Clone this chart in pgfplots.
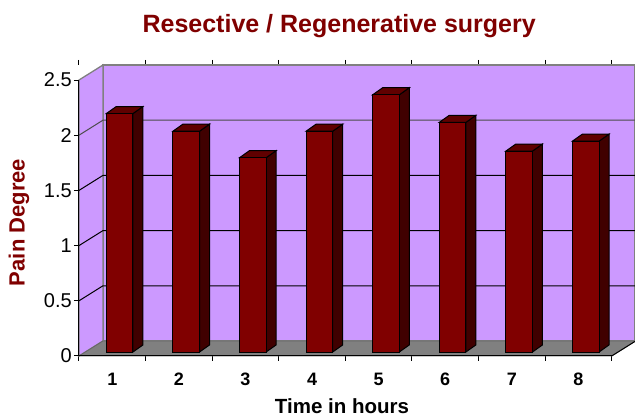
\documentclass[border=0pt]{standalone}
\usepackage{fontspec}
\setmainfont{Liberation Sans}
\usepackage{pgfplots}
\pgfplotsset{compat=1.18}
\definecolor{wall}{HTML}{CC99FF}
\definecolor{floorc}{HTML}{808080}
\definecolor{barfront}{HTML}{800000}
\definecolor{barside}{HTML}{400000}
\definecolor{bartop}{HTML}{600000}
% one bar: #1 hour, #2 value
\newcommand\threedbar[2]{%
  \pgfmathsetmacro\xa{#1-0.09}%
  \pgfmathsetmacro\xb{#1+0.31}%
  \pgfmathsetmacro\xc{#1+0.46}%
  \pgfmathsetmacro\ya{0.036}%
  \pgfmathsetmacro\yb{0.100}%
  \pgfmathsetmacro\yt{#2+0.036}%
  \pgfmathsetmacro\yu{#2+0.100}%
  \pgfmathsetmacro\xd{#1+0.06}%
  \edef\tmp{%
    \noexpand\addplot[draw=black,line width=1pt,fill=barside] coordinates {(\xb,\ya)(\xc,\yb)(\xc,\yu)(\xb,\yt)} --cycle;
    \noexpand\addplot[draw=black,line width=1pt,fill=bartop] coordinates {(\xa,\yt)(\xb,\yt)(\xc,\yu)(\xd,\yu)} --cycle;
    \noexpand\addplot[draw=black,line width=1pt,fill=barfront] coordinates {(\xa,\ya)(\xb,\ya)(\xb,\yt)(\xa,\yt)} --cycle;
  }\tmp
}
% one gridline
\newcommand\gridl[2]{%
  \pgfmathsetmacro\yg{#1+0.136}%
  \edef\tmp{\noexpand\addplot[draw=#2,line width=1pt] coordinates {(0.5,#1)(0.86,\yg)(8.85,\yg)};}\tmp
}
\begin{document}
\begin{tikzpicture}
\path[use as bounding box] (-79pt,-61pt) rectangle (556pt,356pt);
\begin{axis}[
  at={(0,0)}, anchor=south west,
  scale only axis, width=556pt, height=291pt,
  xmin=0.5, xmax=8.85, ymin=0, ymax=2.636,
  axis line style={draw=none},
  clip=false, no markers,
  tick align=outside,
  ytick={0,0.5,1,1.5,2,2.5},
  yticklabels={0,0.5,1,1.5,2,2.5},
  xtick={0.5,1.5,2.5,3.5,4.5,5.5,6.5,7.5,8.5},
  xticklabels={},
  extra x ticks={1,2,3,4,5,6,7,8},
  extra x tick labels={1,2,3,4,5,6,7,8},
  extra x tick style={major tick length=0pt},
  tick style={draw=black,line width=1pt},
  major tick length=5pt,
  ticklabel style={/pgf/number format/assume math mode=true},
  yticklabel style={font=\fontsize{20}{20}\selectfont, inner sep=0pt, xshift=-2pt},
  xticklabel style={font=\bfseries\fontsize{18}{18}\selectfont, text height=13pt, text depth=0pt, yshift=-13pt},
  title={Resective / Regenerative surgery},
  title style={font=\bfseries\fontsize{25}{25}\selectfont, text=barfront, at={(axis description cs:0.468,1.0)}, anchor=center, yshift=33pt},
  xlabel={Time in hours},
  xlabel style={font=\bfseries\fontsize{20.5}{21}\selectfont, at={(axis description cs:0.473,0)}, anchor=center, yshift=-50.5pt},
  ylabel={Pain Degree},
  ylabel style={font=\bfseries\fontsize{22}{22}\selectfont, text=barfront, at={(axis description cs:-0.108,0.459)}, anchor=center},
]
% walls and floor
\addplot[fill=wall,draw=floorc,line width=1.3pt] coordinates {(0.86,0.136)(8.85,0.136)(8.85,2.636)(0.86,2.636)} --cycle;
\addplot[fill=wall,draw=floorc,line width=1.3pt] coordinates {(0.5,0)(0.86,0.136)(0.86,2.636)(0.5,2.5)} --cycle;
\addplot[fill=floorc,draw=black!60,line width=0.8pt] coordinates {(0.5,0)(8.5,0)(8.86,0.136)(0.86,0.136)} --cycle;
% gridlines
\gridl{0.5}{black}\gridl{1}{black}\gridl{1.5}{black}\gridl{2}{black!70}
% bars
\threedbar{1}{2.16}
\threedbar{2}{2.00}
\threedbar{3}{1.76}
\threedbar{4}{2.00}
\threedbar{5}{2.33}
\threedbar{6}{2.08}
\threedbar{7}{1.82}
\threedbar{8}{1.91}
% front axis lines
\addplot[draw=black,line width=1pt] coordinates {(0.5,0)(8.5,0)};
\addplot[draw=black,line width=1pt] coordinates {(0.5,0)(0.5,2.5)};
\addplot[draw=black,line width=1pt] coordinates {(8.5,0)(8.86,0.136)};
\end{axis}
\end{tikzpicture}
\end{document}
